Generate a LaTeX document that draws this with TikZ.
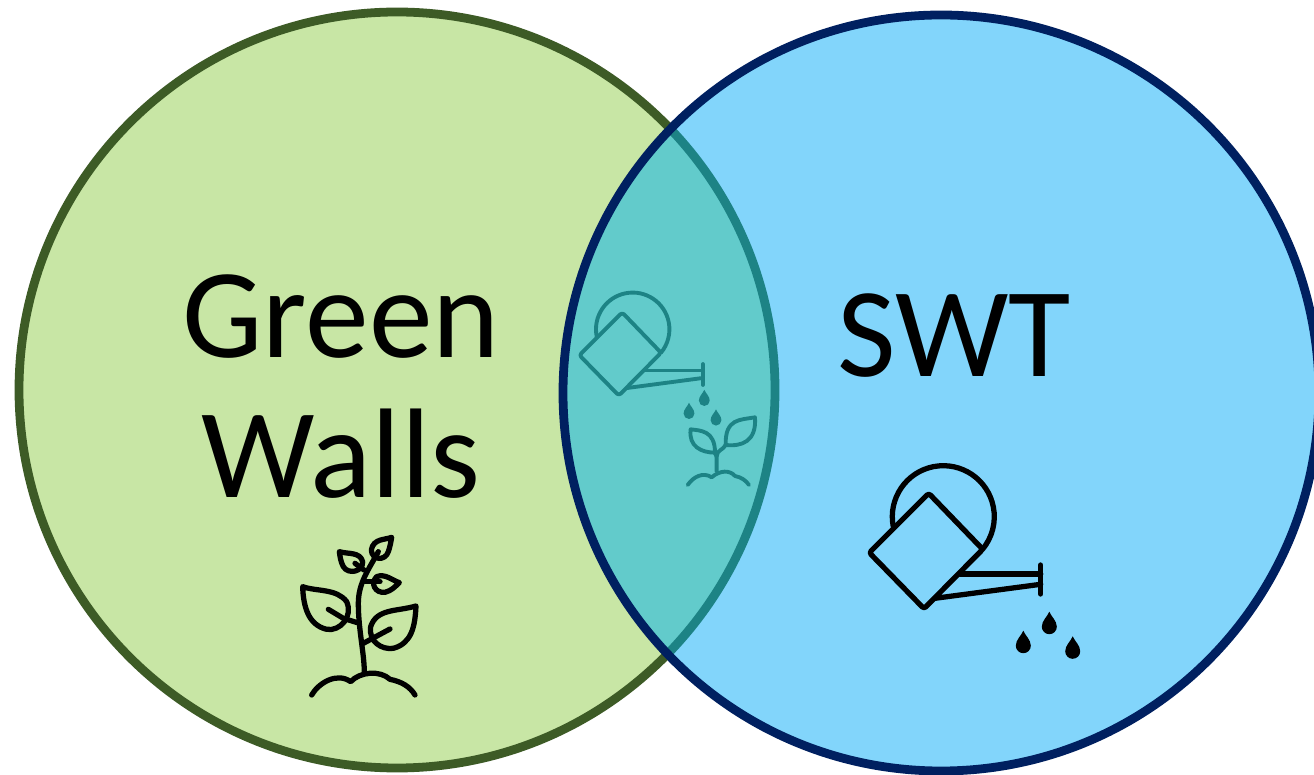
\documentclass[tikz,border=0pt]{standalone}
\usepackage{fontspec}
\setmainfont{Carlito}
\usepackage{xcolor}
\definecolor{wallfill}{HTML}{C8E6A5}
\definecolor{wallline}{HTML}{3D5B26}
\definecolor{swtfill}{HTML}{82D5FB}
\definecolor{swtline}{HTML}{002060}
\definecolor{bothfill}{HTML}{62CBCB}
\definecolor{bothline}{HTML}{1D8385}
\tikzset{
    ringline/.style={line width=5pt},
    bigicon/.style={color=black, line width=3pt, line cap=round, line join=round},
    smallicon/.style={color=bothline, line width=2.2pt, line cap=round, line join=round},
    bigtext/.style={font=\fontsize{72.6}{79.7}\selectfont, align=center, inner sep=0pt},
    wateringcan/.pic={
        \draw[rounded corners=1.5pt] (-14.6,23.4) -- (-74,-36) -- (-19.3,-92) -- (39.4,-32.6) -- cycle;
        \draw (191:51) arc (191:-40:51);
        \draw (16.7,-57.3) -- (97.4,-57.3);
        \draw (-8.3,-81.6) -- (97.4,-67.6);
        \draw (97.4,-48.3) -- (97.4,-77.3);
    },
    waterdrop/.pic={
        \fill (0,11) .. controls (2,6) and (7.5,2) .. (7.5,-4) arc (0:-180:7.5) .. controls (-7.5,2) and (-2,6) .. (0,11) -- cycle;
    }
}
\begin{document}
\begin{tikzpicture}[x=0.02cm, y=0.02cm]
    \useasboundingbox (0,0) rectangle (1314,774);
    % the two circles and what they share
    \fill[wallfill] (397,384) circle (378);
    \draw[wallline, ringline] (397,384) circle (378);
    \fill[swtfill] (941,381) circle (378);
    \begin{scope}
        \clip (941,381) circle (378);
        \fill[bothfill] (397,384) circle (378);
        \draw[bothline, ringline] (397,384) circle (378);
    \end{scope}
    \draw[swtline, ringline] (941,381) circle (378);

    \node[bigtext] (greenwalls) at (341,387) {Green\\Walls};
    \node[bigtext] (swt) at (954,438) {SWT};

    % can on the right
    \pic[bigicon] at (943.3,257.3) {wateringcan};
    \foreach \dropx/\dropy in {1049.3/151.3, 1023.3/132.3, 1072.7/126.7}
        \pic[bigicon] at (\dropx,\dropy) {waterdrop};

    % can in the middle
    \pic[smallicon, scale=0.72] at (632.7,444.7) {wateringcan};
    \foreach \dropx/\dropy in {704.3/376.3, 689/363.3, 716/356.7}
        \pic[smallicon, scale=0.72] at (\dropx,\dropy) {waterdrop};

    % plant on the left
    \begin{scope}[shift={(280,254)}, x=0.00667cm, y=-0.00667cm, bigicon]
        \draw (95,525) .. controls (115,490) and (170,455) .. (212,485) .. controls (240,455) and (300,450) .. (330,478) .. controls (365,485) and (390,500) .. (405,525);
        \draw (253,458) .. controls (253,400) and (235,330) .. (235,250) .. controls (235,190) and (265,150) .. (295,95);
        \draw (250,370) -- (330,327);
        \draw (408,258) .. controls (350,275) and (290,265) .. (272,320) .. controls (265,365) and (305,390) .. (340,385) .. controls (395,370) and (405,320) .. (408,258) -- cycle;
        \draw (68,200) .. controls (110,215) and (170,205) .. (200,245) .. controls (220,290) and (180,335) .. (140,328) .. controls (85,315) and (70,260) .. (68,200) -- cycle;
        \draw (145,268) -- (190,295) -- (232,308);
        \draw (178,95) .. controls (205,103) and (240,95) .. (248,125) .. controls (250,155) and (205,165) .. (190,140) .. controls (182,125) and (180,110) .. (178,95) -- cycle;
        \draw (225,130) -- (252,150);
        \draw (335,52) .. controls (315,60) and (280,55) .. (274,90) .. controls (275,120) and (315,125) .. (325,95) .. controls (330,80) and (332,70) .. (335,52) -- cycle;
        \draw (358,188) .. controls (335,180) and (315,160) .. (290,170) .. controls (270,190) and (285,220) .. (315,217) .. controls (335,212) and (345,200) .. (358,188) -- cycle;
        \draw (255,185) -- (300,185);
    \end{scope}

    % plant in the middle
    \begin{scope}[shift={(560,504)}, x=0.00667cm, y=-0.00667cm, smallicon]
        \draw (383,645) .. controls (400,620) and (430,605) .. (455,622) .. controls (480,600) and (510,600) .. (525,618) .. controls (545,622) and (558,632) .. (567,645);
        \draw (470,605) -- (470,560) .. controls (470,540) and (490,540) .. (497,525);
        \draw (470,560) -- (463,546);
        \draw (392,478) .. controls (420,482) and (465,480) .. (465,548) .. controls (425,548) and (385,530) .. (392,478) -- cycle;
        \draw (585,442) .. controls (540,450) and (495,445) .. (497,525) .. controls (545,530) and (590,515) .. (585,442) -- cycle;
    \end{scope}
\end{tikzpicture}
\end{document}
